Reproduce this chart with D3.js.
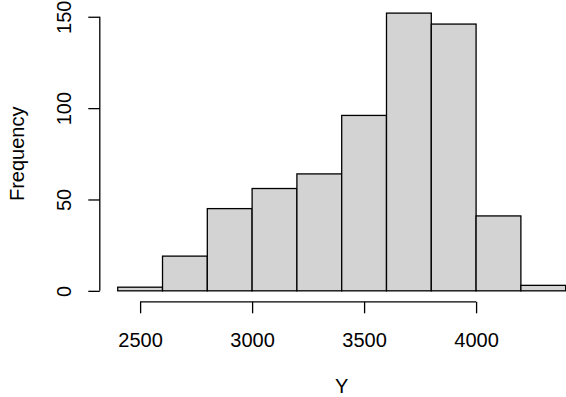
<!DOCTYPE html>
<html>
<head>
<meta charset="utf-8">
<script src="https://cdn.jsdelivr.net/npm/d3@7"></script>
<style>
  html, body { margin: 0; padding: 0; background: #fff; }
  text { font-family: "Liberation Sans", Arial, sans-serif; fill: #000; }
</style>
</head>
<body>
<div id="chart"></div>
<script>
// histogram bins (breaks every 200) and their counts
const binStarts = [2400, 2600, 2800, 3000, 3200, 3400, 3600, 3800, 4000, 4200];
const binWidth = 200;
const counts = [2, 19, 45, 56, 64, 96, 152, 146, 41, 3];

const xTicks = [2500, 3000, 3500, 4000];
const yTicks = [0, 50, 100, 150];

const xTitle = 'Y';
const yTitle = 'Frequency';

const width = 566;
const height = 397;

const svg = d3.select('#chart')
    .append('svg')
    .attr('width', width)
    .attr('height', height);

// R-style plot region: data range padded by 4% on each side
const x = d3.scaleLinear()
    .domain([2320, 4480])
    .range([99.8, 583.6]);

const y = d3.scaleLinear()
    .domain([-6, 156])
    .range([301.8, 5.8]);

// Bars
svg.append('g')
    .selectAll('rect')
    .data(counts)
    .join('rect')
    .attr('x', (d, i) => x(binStarts[i]))
    .attr('y', d => y(d))
    .attr('width', (d, i) => x(binStarts[i] + binWidth) - x(binStarts[i]))
    .attr('height', d => y(0) - y(d))
    .attr('fill', '#d3d3d3')
    .attr('stroke', '#000')
    .attr('stroke-width', 1.3);

// X axis
const xAxis = svg.append('g')
    .attr('transform', `translate(0,${y(-6)})`)
    .call(d3.axisBottom(x).tickValues(xTicks).tickFormat(d3.format('d'))
        .tickSize(11.5).tickSizeOuter(0));

xAxis.select('.domain')
    .attr('d', `M${x(xTicks[0])},0H${x(xTicks[xTicks.length - 1])}`);

xAxis.selectAll('text')
    .attr('y', 45)
    .attr('dy', 0)
    .style('font-size', '20px');

// Y axis
const yAxis = svg.append('g')
    .attr('transform', `translate(${x(2320)},0)`)
    .call(d3.axisLeft(y).tickValues(yTicks).tickFormat(d3.format('d'))
        .tickSize(11.5).tickSizeOuter(0));

yAxis.select('.domain')
    .attr('d', `M0,${y(yTicks[0])}V${y(yTicks[yTicks.length - 1])}`);

yAxis.selectAll('text')
    .attr('x', 0)
    .attr('y', 0)
    .attr('dy', 0)
    .attr('text-anchor', 'middle')
    .attr('transform', 'translate(-29,0) rotate(-90)')
    .style('font-size', '20px');

svg.selectAll('.domain, .tick line')
    .attr('stroke', '#000')
    .attr('stroke-width', 1.3);

// Axis titles
svg.append('text')
    .attr('x', x(3400))
    .attr('y', 393)
    .attr('text-anchor', 'middle')
    .style('font-size', '20px')
    .text(xTitle);

svg.append('text')
    .attr('transform', `translate(24,${y(75)}) rotate(-90)`)
    .attr('text-anchor', 'middle')
    .style('font-size', '20px')
    .text(yTitle);
</script>
</body>
</html>
